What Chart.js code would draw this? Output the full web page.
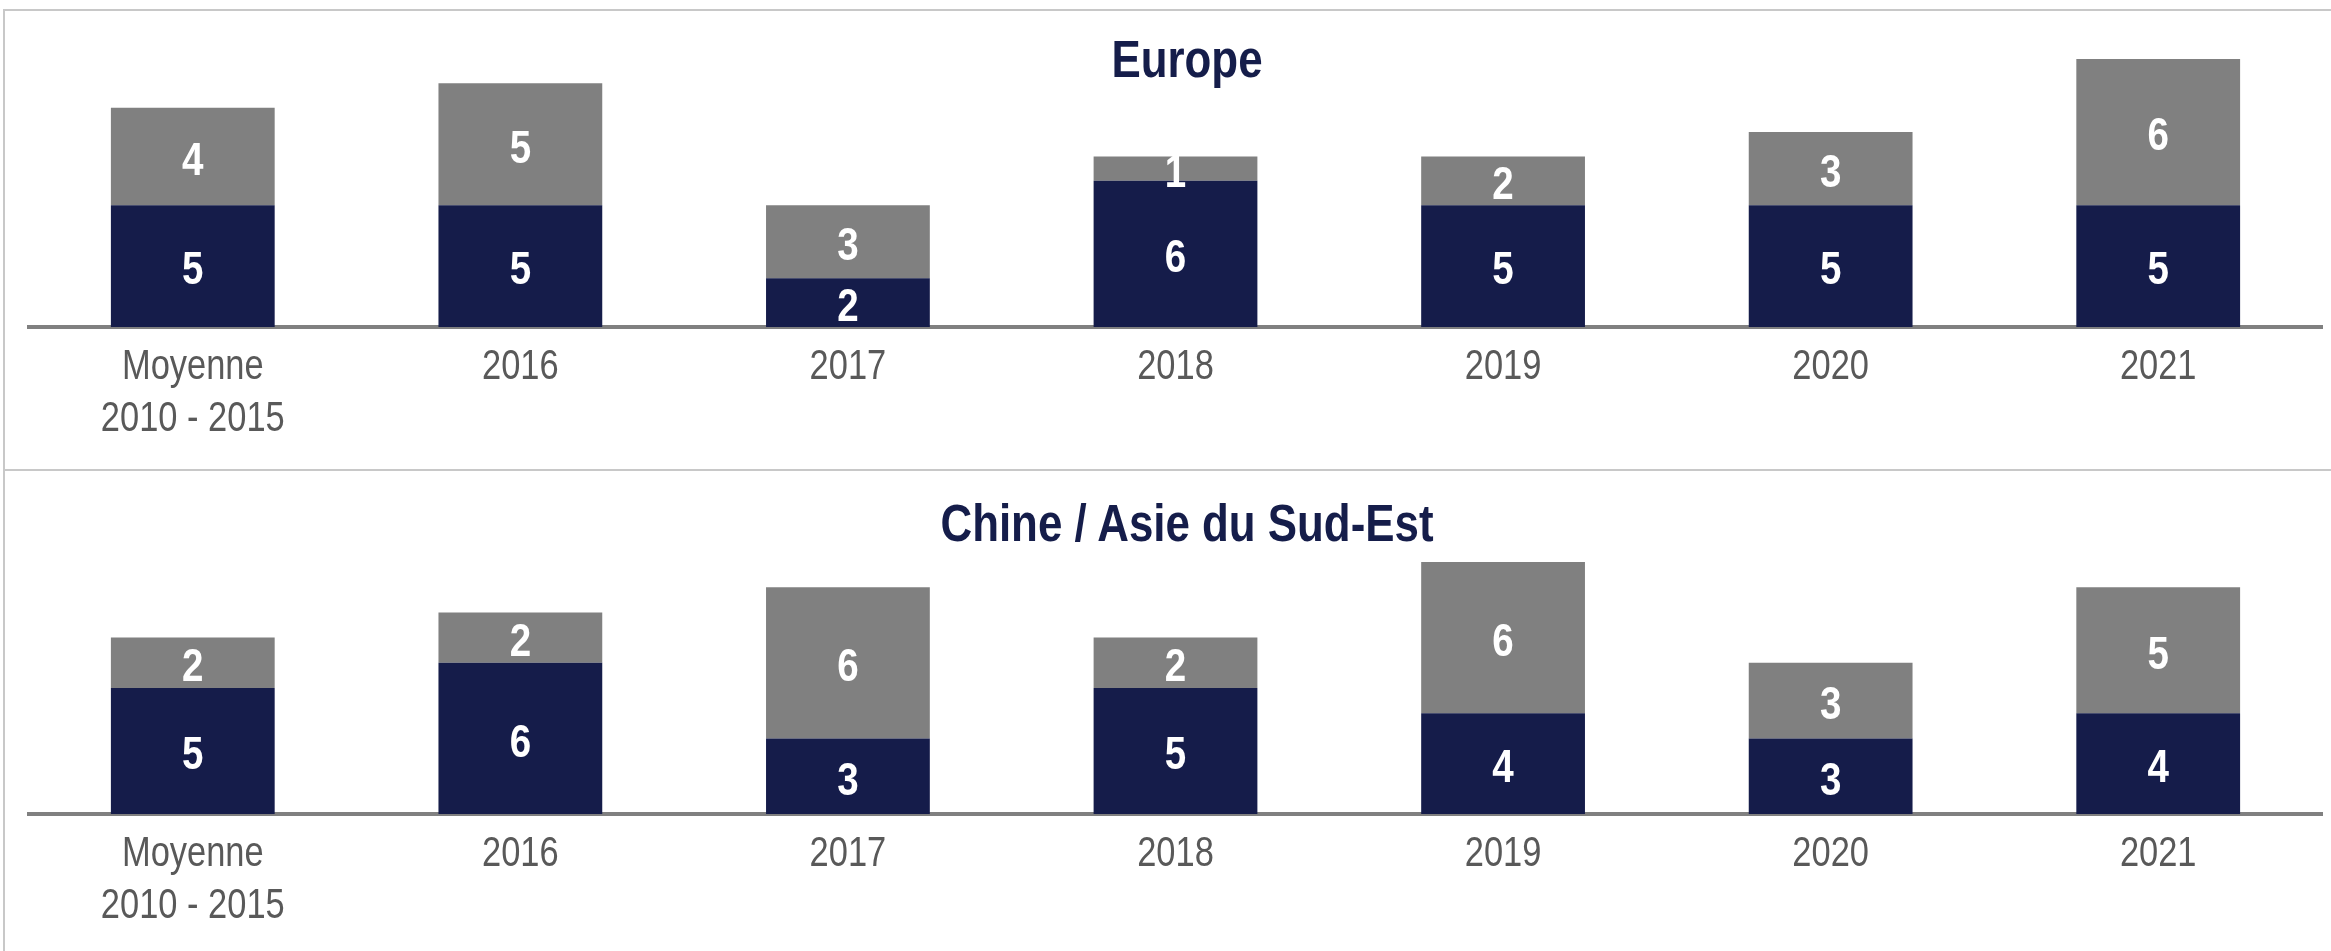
<!DOCTYPE html>
<html>
<head>
<meta charset="utf-8">
<script src="https://cdn.jsdelivr.net/npm/chart.js@4"></script>
<style>
  body { margin: 0; background: #fff; }
  #wrap { position: relative; width: 2331px; height: 951px; overflow: hidden; }
  .panel { position: absolute; left: 0; width: 2331px; }
  .title {
    position: absolute; left: 0; width: 2374px; text-align: center;
    font-family: 'Liberation Sans', Arial, sans-serif;
    font-weight: bold; font-size: 51px; line-height: 51px; color: #151d4a;
    white-space: nowrap; transform: scaleX(0.86); transform-origin: 1187px 0;
  }
  .line { position: absolute; background: #c8c8c8; }
</style>
</head>
<body>
<div id="wrap">
  <div class="line" style="left:3px;top:9px;width:2328px;height:2px"></div>
  <div class="line" style="left:3px;top:9px;width:2px;height:942px"></div>
  <div class="line" style="left:3px;top:469px;width:2328px;height:2px"></div>

  <div class="panel" style="top:0;height:470px">
    <canvas id="europe" width="2331" height="470"></canvas>
  </div>
  <div class="panel" style="top:470px;height:481px">
    <canvas id="asie" width="2331" height="481"></canvas>
  </div>

  <div class="title" style="top:34px">Europe</div>
  <div class="title" style="top:498px">Chine / Asie du Sud-Est</div>
</div>

<script>
// catégories (axe des x)
const annees = [['Moyenne', '2010 - 2015'], '2016', '2017', '2018', '2019', '2020', '2021'];

// Europe
const europeBas = [5, 5, 2, 6, 5, 5, 5];
const europeHaut = [4, 5, 3, 1, 2, 3, 6];

// Chine / Asie du Sud-Est
const asieBas = [5, 6, 3, 5, 4, 3, 4];
const asieHaut = [2, 2, 6, 2, 6, 3, 5];

const police = "'Liberation Sans', Arial, sans-serif";
const serrage = 0.82; // imite Arial Narrow

function texteEtroit(ctx, txt, x, y) {
    ctx.save();
    ctx.translate(x, y);
    ctx.scale(serrage, 1);
    ctx.fillText(txt, 0, 0);
    ctx.restore();
}

// valeurs en blanc au centre de chaque segment + libellés de l'axe x
const etiquettes = {
    id: 'etiquettes',
    afterDatasetsDraw(chart) {
        const ctx = chart.ctx;
        ctx.save();
        ctx.textAlign = 'center';
        ctx.textBaseline = 'alphabetic';

        ctx.fillStyle = '#ffffff';
        ctx.font = 'bold 47px ' + police;
        chart.data.datasets.forEach((ds, i) => {
            chart.getDatasetMeta(i).data.forEach((bar, j) => {
                const p = bar.getProps(['x', 'y', 'base'], true);
                texteEtroit(ctx, String(ds.data[j]), p.x, (p.y + p.base) / 2 + 1.5 + 0.358 * 47);
            });
        });

        const xs = chart.scales.x;
        ctx.fillStyle = '#595959';
        ctx.font = '42px ' + police;
        chart.data.labels.forEach((lab, i) => {
            const lignes = Array.isArray(lab) ? lab : [lab];
            const x = xs.getPixelForValue(i);
            lignes.forEach((l, k) => {
                texteEtroit(ctx, l, x, xs.top + 37 + 52 * k + 0.358 * 42);
            });
        });
        ctx.restore();
    }
};

function graphique(id, bas, haut, yMax, haut0, hautAxe) {
    const ctx = document.getElementById(id).getContext('2d');
    return new Chart(ctx, {
        type: 'bar',
        data: {
            labels: annees,
            datasets: [{
                data: bas,
                backgroundColor: '#151c4a',
                categoryPercentage: 1,
                barPercentage: 0.5
            }, {
                data: haut,
                backgroundColor: '#808080',
                categoryPercentage: 1,
                barPercentage: 0.5
            }]
        },
        options: {
            responsive: false,
            animation: false,
            layout: { padding: { left: 29, right: 9, top: haut0, bottom: 0 } },
            plugins: {
                legend: { display: false },
                tooltip: { enabled: false }
            },
            scales: {
                x: {
                    stacked: true,
                    grid: { display: false, drawTicks: false },
                    border: { display: true, color: '#808080', width: 4 },
                    ticks: { display: false },
                    afterFit(scale) { scale.height = hautAxe; }
                },
                y: {
                    stacked: true,
                    display: false,
                    min: 0,
                    max: yMax
                }
            }
        },
        plugins: [etiquettes]
    });
}

graphique('europe', europeBas, europeHaut, 11, 59, 143);
graphique('asie', asieBas, asieHaut, 10, 92, 137);
</script>
</body>
</html>
